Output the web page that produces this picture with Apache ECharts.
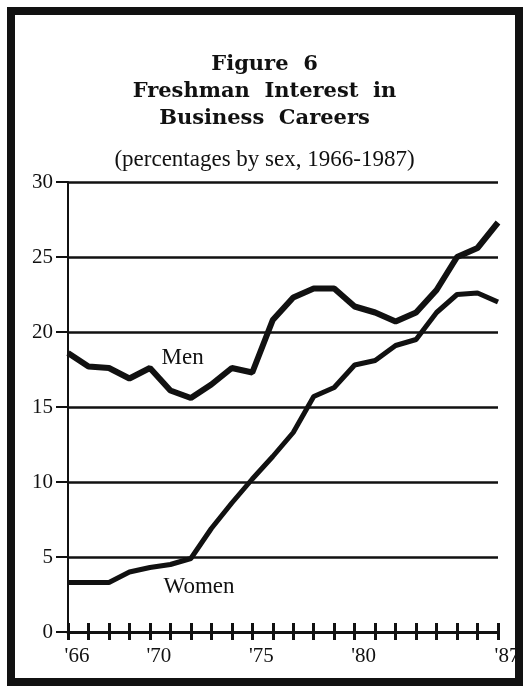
<!DOCTYPE html>
<html>
<head>
<meta charset="utf-8">
<script src="https://cdn.jsdelivr.net/npm/echarts@6/dist/echarts.min.js"></script>
<style>
  html, body { margin: 0; padding: 0; background: #fff; }
  #main { width: 529px; height: 687px; }
</style>
</head>
<body>
<div id="main"></div>
<script>
// 数据
var years = [1966, 1967, 1968, 1969, 1970, 1971, 1972, 1973, 1974, 1975, 1976,
  1977, 1978, 1979, 1980, 1981, 1982, 1983, 1984, 1985, 1986, 1987];
var menData = [18.6, 17.7, 17.6, 16.9, 17.6, 16.1, 15.6, 16.5, 17.6, 17.3, 20.8,
  22.3, 22.9, 22.9, 21.7, 21.3, 20.7, 21.3, 22.8, 25.0, 25.6, 27.3];
var womenData = [3.3, 3.3, 3.3, 4.0, 4.3, 4.5, 4.9, 6.9, 8.6, 10.2, 11.7,
  13.3, 15.7, 16.3, 17.8, 18.1, 19.1, 19.5, 21.3, 22.5, 22.6, 22.0];
var yearLabels = { 1966: "'66", 1970: "'70", 1975: "'75", 1980: "'80", 1987: "'87" };
var titleLines = ['Figure  6', 'Freshman  Interest  in', 'Business  Careers'];
var subTitle = '(percentages by sex, 1966-1987)';

function pairs(arr) {
  return years.map(function (y, i) { return [y, arr[i]]; });
}

var serif = '"Liberation Serif", "Times New Roman", serif';
var boldSerif = '"DejaVu Serif", serif';

// 系列名称标签（挂在数据坐标上）
function nameMark(name, coord) {
  return {
    symbol: 'circle',
    symbolSize: 1,
    itemStyle: { color: 'rgba(0,0,0,0)' },
    data: [{ coord: coord, value: 0 }],
    label: {
      show: true,
      position: 'inside',
      formatter: name,
      fontFamily: serif,
      fontSize: 23,
      color: '#111'
    }
  };
}

var myChart = echarts.init(document.getElementById('main'));

var options = {
  backgroundColor: '#fff',
  animation: false,
  title: [
    { text: titleLines[0], left: 'center', top: 49,
      textStyle: { fontFamily: boldSerif, fontSize: 21, fontWeight: 'bold', color: '#111' } },
    { text: titleLines[1], left: 'center', top: 76,
      textStyle: { fontFamily: boldSerif, fontSize: 21, fontWeight: 'bold', color: '#111' } },
    { text: titleLines[2], left: 'center', top: 103,
      textStyle: { fontFamily: boldSerif, fontSize: 21, fontWeight: 'bold', color: '#111' } },
    { text: subTitle, left: 'center', top: 143,
      textStyle: { fontFamily: serif, fontSize: 23, fontWeight: 'normal', color: '#111' } }
  ],
  graphic: [
    {
      type: 'rect',
      shape: { x: 11, y: 11, width: 508, height: 671 },
      style: { fill: 'none', stroke: '#111', lineWidth: 8 },
      silent: true
    }
  ],
  grid: { left: 68, right: 31, top: 182, bottom: 55 },
  xAxis: [
    {
      type: 'value',
      min: 1966,
      max: 1987,
      interval: 1,
      splitLine: { show: false },
      axisLine: { show: true, lineStyle: { color: '#111', width: 3 } },
      axisTick: { show: true, length: 8, lineStyle: { color: '#111', width: 3 } },
      axisLabel: {
        margin: 14,
        padding: [0, 0, 0, 18],
        fontFamily: serif,
        fontSize: 21,
        color: '#111',
        formatter: function (v) { return yearLabels[v] || ''; }
      }
    },
    {
      type: 'value',
      position: 'bottom',
      min: 1966,
      max: 1987,
      interval: 1,
      splitLine: { show: false },
      axisLine: { show: false },
      axisTick: { show: true, inside: true, length: 9, lineStyle: { color: '#111', width: 3 } },
      axisLabel: { show: false }
    }
  ],
  yAxis: {
    type: 'value',
    min: 0,
    max: 30,
    interval: 5,
    axisLine: { show: true, lineStyle: { color: '#111', width: 2 } },
    axisTick: { show: true, length: 12, lineStyle: { color: '#111', width: 2 } },
    axisLabel: { margin: 15, fontFamily: serif, fontSize: 21, color: '#111' },
    splitLine: { show: true, lineStyle: { color: '#111', width: 2.5 } }
  },
  series: [
    {
      name: 'Men',
      type: 'line',
      data: pairs(menData),
      symbol: 'none',
      smooth: false,
      lineStyle: { color: '#111', width: 6 },
      z: 5,
      markPoint: nameMark('Men', [1971.6, 18.3])
    },
    {
      name: 'Women',
      type: 'line',
      data: pairs(womenData),
      symbol: 'none',
      smooth: false,
      lineStyle: { color: '#111', width: 5 },
      z: 4,
      markPoint: nameMark('Women', [1972.4, 3.0])
    }
  ]
};

myChart.setOption(options);
</script>
</body>
</html>
